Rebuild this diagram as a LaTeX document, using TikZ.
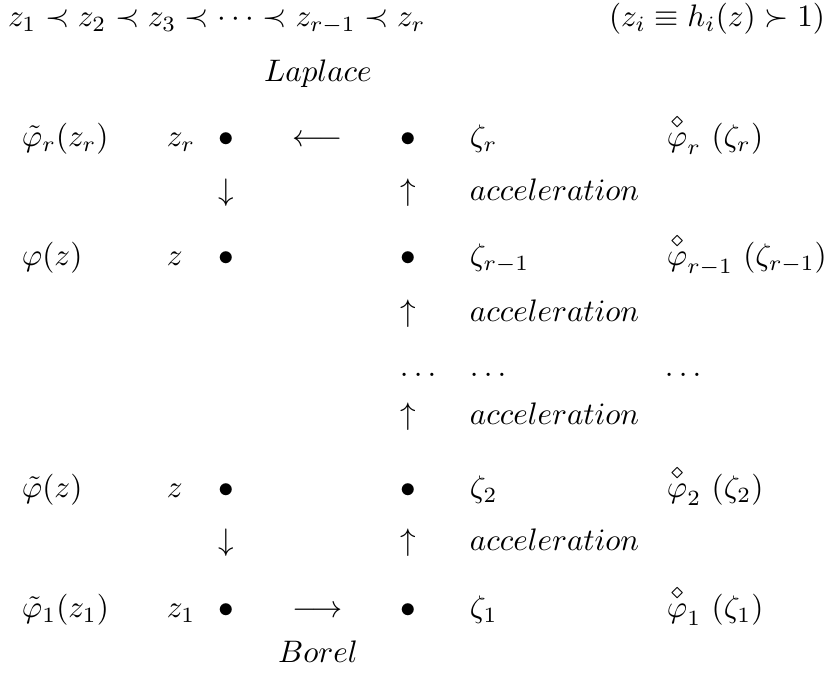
\documentclass[tikz,border=0pt]{standalone}
\usepackage{amsmath,amssymb}
\newcommand{\dphi}{\overset{\diamond}{\varphi}}
\begin{document}
\begin{tikzpicture}[x=0.3213pt,y=-0.3213pt,
  t/.style={inner sep=0pt,outer sep=0pt,anchor=base west},
  c/.style={inner sep=0pt,outer sep=0pt,anchor=base},
  r/.style={inner sep=0pt,outer sep=0pt,anchor=base east}]
\useasboundingbox (0,0) rectangle (828,681);
% top line
\node[t] (chain) at (8,27) {$z_1 \prec z_2 \prec z_3 \prec \cdots \prec z_{r-1} \prec z_r$};
\node[r] (cond) at (825,27) {$(z_i \equiv h_i(z) \succ 1)$};
\node[c] (laplace) at (318,82) {$Laplace$};
% row r
\node[t] (f1) at (22,147) {$\tilde{\varphi}_r(z_r)$};
\node[t] (z1) at (167,147) {$z_r$};
\node[c] (b1) at (226,147) {$\bullet$};
\node[c] (a1) at (318,147) {$\longleftarrow$};
\node[c] (d1) at (408,147) {$\bullet$};
\node[t] (s1) at (470,147) {$\zeta_r$};
\node[t] (g1) at (667,147) {$\dphi_r\ (\zeta_r)$};
% arrows row
\node[c] (v1) at (226,201) {$\downarrow$};
\node[c] (u1) at (408,201) {$\uparrow$};
\node[t] (acc1) at (470,201) {$acceleration$};
% row phi
\node[t] (f2) at (22,266) {$\varphi(z)$};
\node[t] (z2) at (167,266) {$z$};
\node[c] (b2) at (226,266) {$\bullet$};
\node[c] (d2) at (408,266) {$\bullet$};
\node[t] (s2) at (470,266) {$\zeta_{r-1}$};
\node[t] (g2) at (667,266) {$\dphi_{r-1}\ (\zeta_{r-1})$};
% acceleration
\node[c] (u2) at (408,322) {$\uparrow$};
\node[t] (acc2) at (470,322) {$acceleration$};
% dots
\node[t] (e1) at (400,377) {$\ldots$};
\node[t] (e2) at (470,377) {$\ldots$};
\node[t] (e3) at (665,377) {$\ldots$};
% acceleration
\node[c] (u3) at (408,425) {$\uparrow$};
\node[t] (acc3) at (470,425) {$acceleration$};
% row tilde phi
\node[t] (f3) at (22,498) {$\tilde{\varphi}(z)$};
\node[t] (z3) at (167,498) {$z$};
\node[c] (b3) at (226,498) {$\bullet$};
\node[c] (d3) at (408,498) {$\bullet$};
\node[t] (s3) at (470,498) {$\zeta_2$};
\node[t] (g3) at (667,498) {$\dphi_2\ (\zeta_2)$};
% arrows
\node[c] (v2) at (226,551) {$\downarrow$};
\node[c] (u4) at (408,551) {$\uparrow$};
\node[t] (acc4) at (470,551) {$acceleration$};
% row 1
\node[t] (f4) at (22,618) {$\tilde{\varphi}_1(z_1)$};
\node[t] (z4) at (167,618) {$z_1$};
\node[c] (b4) at (226,618) {$\bullet$};
\node[c] (a2) at (318,618) {$\longrightarrow$};
\node[c] (d4) at (408,618) {$\bullet$};
\node[t] (s4) at (470,618) {$\zeta_1$};
\node[t] (g4) at (667,618) {$\dphi_1\ (\zeta_1)$};
\node[c] (borel) at (318,663) {$Borel$};
\end{tikzpicture}
\end{document}
